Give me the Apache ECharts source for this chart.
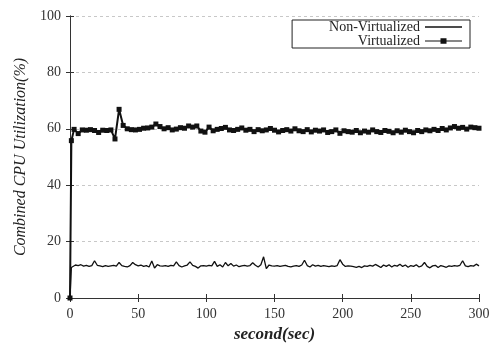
<!DOCTYPE html>
<html>
<head>
<meta charset="utf-8">
<script src="https://cdn.jsdelivr.net/npm/echarts@6/dist/echarts.min.js"></script>
<style>html,body{margin:0;padding:0;background:#fff}#c{width:497px;height:343px}</style>
</head>
<body>
<div id="c"></div>
<script>
// Virtualized: sample times (sec) and CPU utilization (%)
var virtTimes = [0,1,3,6,9,12,15,18,21,24,27,30,33,36,39,42,45,48,51,54,57,60,63,66,69,72,75,78,81,84,87,90,93,96,99,102,105,108,111,114,117,120,123,126,129,132,135,138,141,144,147,150,153,156,159,162,165,168,171,174,177,180,183,186,189,192,195,198,201,204,207,210,213,216,219,222,225,228,231,234,237,240,243,246,249,252,255,258,261,264,267,270,273,276,279,282,285,288,291,294,297,300];
var virtValues = [0,55.8,59.8,58.3,59.6,59.5,59.7,59.4,58.7,59.5,59.4,59.6,56.4,66.9,61.2,60.0,59.7,59.6,59.8,60.2,60.3,60.6,61.7,60.8,60.0,60.4,59.6,59.9,60.4,60.2,61.0,60.6,61.0,59.2,58.8,60.6,59.3,59.8,60.1,60.5,59.6,59.4,59.8,60.3,59.5,59.8,59.0,59.7,59.3,59.6,60.1,59.5,58.9,59.4,59.7,59.2,60.0,59.3,59.0,59.7,58.9,59.5,59.2,59.6,58.7,59.0,59.6,58.4,59.3,59.0,58.8,59.4,58.6,59.2,58.8,59.6,59.0,58.7,59.4,59.1,58.6,59.3,58.8,59.5,59.0,58.6,59.4,59.0,59.6,59.3,59.8,59.4,60.1,59.6,60.3,60.8,60.2,60.5,59.9,60.6,60.4,60.2];

// Non-Virtualized: sample times (sec) and CPU utilization (%)
var nonTimes = [0,1,2,4,6,8,10,12,14,16,18,20,22,24,26,28,30,32,34,36,38,40,42,44,46,48,50,52,54,56,58,60,62,64,66,68,70,72,74,76,78,80,82,84,86,88,90,92,94,96,98,100,102,104,106,108,110,112,114,116,118,120,122,124,126,128,130,132,134,136,138,140,142,144,146,148,150,152,154,156,158,160,162,164,166,168,170,172,174,176,178,180,182,184,186,188,190,192,194,196,198,200,202,204,206,208,210,212,214,216,218,220,222,224,226,228,230,232,234,236,238,240,242,244,246,248,250,252,254,256,258,260,262,264,266,268,270,272,274,276,278,280,282,284,286,288,290,292,294,296,298,300];
var nonValues = [0,10.8,11.4,11.7,11.5,11.8,11.3,11.6,11.2,11.5,13.2,11.6,11.4,11.1,11.5,11.2,11.4,11.6,11.3,12.6,11.5,11.2,11.0,11.5,12.6,11.8,11.4,11.7,11.2,11.5,11.0,13.1,10.6,11.8,11.4,11.3,11.5,11.2,11.6,11.4,12.8,11.5,11.0,11.4,11.7,12.8,11.6,11.2,10.6,11.4,11.5,11.3,11.6,11.4,13.0,11.2,11.8,11.0,12.6,11.4,12.2,11.3,11.7,11.1,11.4,11.6,11.3,11.5,12.5,11.6,11.0,11.8,14.6,10.4,11.7,11.4,11.3,11.5,11.2,11.4,11.6,11.2,11.0,11.3,11.5,11.2,11.7,13.4,11.5,11.0,11.8,11.3,11.6,11.2,11.5,11.3,11.1,11.4,11.2,11.5,13.6,12.0,11.2,11.4,11.3,11.1,10.9,11.2,10.8,11.4,11.2,11.6,11.3,11.9,11.4,10.8,11.7,11.2,11.8,11.0,11.6,11.3,12.0,11.2,11.7,10.9,11.5,11.2,11.8,11.0,11.4,12.6,11.2,10.7,11.4,11.6,10.8,11.5,11.2,10.9,11.4,11.2,11.5,11.3,11.6,13.2,11.4,11.1,11.5,11.3,12.0,11.4];

var seriesNames = ['Non-Virtualized', 'Virtualized'];
var xTitle = 'second(sec)';
var yTitle = 'Combined CPU Utilization(%)';

function pairs(t, v) { return t.map(function (x, i) { return [x, v[i]]; }); }

var font = 'Liberation Serif, Times New Roman, serif';
var lineIcon = 'path://M0,0L37,0L37,1.4L0,1.4Z';
var markIcon = 'path://M0,2.3L15.5,2.3L15.5,0L21.5,0L21.5,2.3L37,2.3L37,3.3L21.5,3.3L21.5,5.6L15.5,5.6L15.5,3.3L0,3.3Z';
var chart = echarts.init(document.getElementById('c'));
chart.setOption({
  animation: false,
  backgroundColor: '#fff',
  grid: { left: 70, right: 18, top: 16, bottom: 45, containLabel: false, outerBoundsMode: 'none' },
  legend: {
    right: 27, top: 20, orient: 'vertical', align: 'right',
    borderColor: '#222', borderWidth: 1, borderRadius: 0,
    padding: [0, 8, 0, 37], itemGap: 0, itemWidth: 37, itemHeight: 6,
    textStyle: { fontFamily: font, fontSize: 14, color: '#222', lineHeight: 13, padding: [0, 0, 0, 0] },
    data: [{ name: seriesNames[0], icon: lineIcon }, { name: seriesNames[1], icon: markIcon }]
  },
  xAxis: [{
    type: 'value', min: 0, max: 300, interval: 50,
    name: xTitle, nameLocation: 'middle', nameGap: 25,
    nameTextStyle: { fontFamily: font, fontSize: 17, fontStyle: 'italic', fontWeight: 'bold', color: '#222' },
    axisLine: { show: true, lineStyle: { color: '#333', width: 1 } },
    axisTick: { show: true, inside: true, length: 4, lineStyle: { color: '#333' } },
    axisLabel: { fontFamily: font, fontSize: 14, color: '#333', margin: 9 },
    splitLine: { show: false }
  }, {
    type: 'value', min: 0, max: 300, interval: 50, position: 'top',
    axisLine: { show: true, lineStyle: { color: '#333', width: 1 } },
    axisTick: { show: true, inside: true, length: 4, lineStyle: { color: '#333' } },
    axisLabel: { show: false }, splitLine: { show: false }
  }],
  yAxis: [{
    type: 'value', min: 0, max: 100, interval: 20,
    name: yTitle, nameLocation: 'middle', nameGap: 38,
    nameTextStyle: { fontFamily: font, fontSize: 16, fontStyle: 'italic', color: '#222' },
    axisLine: { show: true, lineStyle: { color: '#333', width: 1 } },
    axisTick: { show: true, inside: true, length: 4, lineStyle: { color: '#333' } },
    axisLabel: { fontFamily: font, fontSize: 14, color: '#333', margin: 9 },
    splitLine: { show: true, lineStyle: { color: '#c8c8c8', type: [3, 3], width: 1 } }
  }, {
    type: 'value', min: 0, max: 100, interval: 20, position: 'right',
    axisLine: { show: true, lineStyle: { color: '#333', width: 1 } },
    axisTick: { show: true, inside: true, length: 4, lineStyle: { color: '#333' } },
    axisLabel: { show: false }, splitLine: { show: false }
  }],
  series: [{
    name: seriesNames[0], type: 'line', xAxisIndex: 0, yAxisIndex: 0,
    data: pairs(nonTimes, nonValues),
    showSymbol: false, symbol: 'none',
    lineStyle: { color: '#111', width: 1.3 }, itemStyle: { color: '#111' }
  }, {
    name: seriesNames[1], type: 'line', xAxisIndex: 0, yAxisIndex: 0,
    data: pairs(virtTimes, virtValues),
    symbol: 'rect', symbolSize: 5,
    lineStyle: { color: '#111', width: 2 }, itemStyle: { color: '#111' }
  }]
});
</script>
</body>
</html>
